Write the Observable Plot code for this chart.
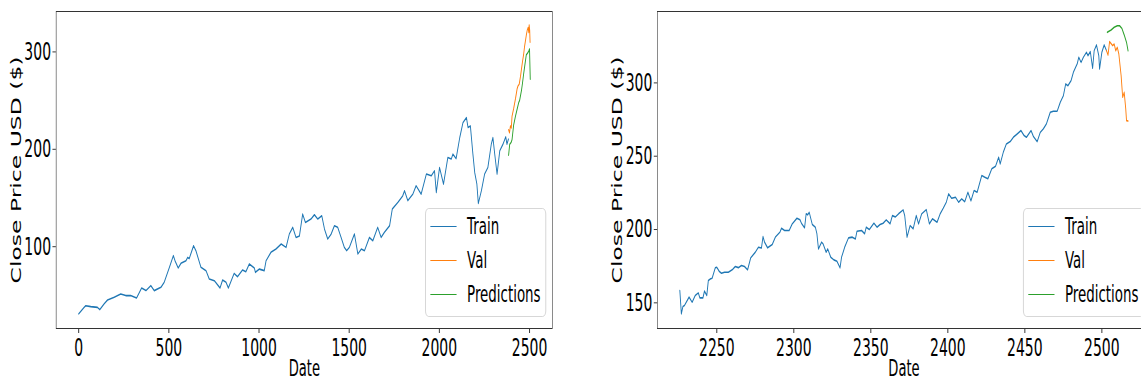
<!DOCTYPE html>
<html>
<head>
<meta charset="utf-8">
<script src="https://cdn.jsdelivr.net/npm/d3@7"></script>
<script src="https://cdn.jsdelivr.net/npm/@observablehq/plot@0.6"></script>
<style>
  html, body { margin: 0; padding: 0; background: white; overflow: hidden; }
  #wrap { position: absolute; left: 0; top: 0; width: 1141px; height: 382px; overflow: hidden; background: white; }
  #inner { position: absolute; left: 0; top: 0; width: 2100px; height: 382px; transform: scaleX(0.57); transform-origin: 0 0; }
  .panel { position: absolute; top: 0; height: 382px; }
  .panel svg { max-width: none !important; display: block; }
  .legend { position: absolute; top: 207.5px; width: 211.5px; height: 109px; box-sizing: border-box;
            border: 1px solid #cccccc; border-radius: 6px; background: rgba(255,255,255,0.8);
            font-family: "DejaVu Sans", sans-serif; font-size: 23.5px; color: black; }
  .row { position: absolute; left: 8px; height: 34px; display: flex; align-items: center; white-space: nowrap; }
  .sw { display: inline-block; width: 46px; height: 0; border-top: 1.5px solid; margin-right: 18.4px; }
</style>
</head>
<body>
<div id="wrap"><div id="inner">
  <div id="p1" class="panel" style="left:0px; width:1000px"></div>
  <div id="p2" class="panel" style="left:1000px; width:1060px"></div>
</div></div>
<script>
// ---------- data ----------
const seriesNames = ["Train", "Val", "Predictions"];
const seriesColors = ["#1f77b4", "#ff7f0e", "#2ca02c"];
const xLabel = "Date";
const yLabel = "Close Price USD ($)";

// left panel (full history)
const leftXTicks = [0, 500, 1000, 1500, 2000, 2500];
const leftYTicks = [100, 200, 300];
const leftTrainX = [
  0,30,39,67,104,117,141,160,197,233,
  261,288,321,349,373,400,419,456,474,503,
  525,534,552,567,595,604,613,637,650,678,
  706,724,752,784,798,817,830,862,881,909,
  927,946,974,980,1002,1029,1039,1066,1094,1123,
  1150,1168,1187,1205,1224,1242,1257,1288,1307,1326,
  1348,1363,1381,1400,1418,1436,1455,1473,1486,1501,
  1529,1548,1567,1585,1612,1631,1658,1677,1695,1724,
  1739,1770,1797,1807,1825,1853,1871,1899,1928,1955,
  1973,1983,2001,2023,2047,2066,2075,2093,2113,2131,
  2150,2159,2172,2186,2196,2208,2216,2233,2251,2269,
  2288,2297,2307,2320,2335,2353,2368,2375,2383];
const leftTrainY = [
  31,37.7,39.4,38.5,37.7,35.4,41.2,45.3,48,51.5,
  49.8,49.8,47.4,57.6,54.9,60,54.9,58.3,63.4,78.8,
  90.8,85.6,78.1,82.9,85.6,89,87.8,101,95.9,78.8,
  75.4,66.9,65.1,57.6,65.8,63.4,57.6,72.6,69.2,76.1,
  74.3,82.3,78.1,73.7,77,75.4,85.6,94.2,97.6,102.8,
  99.3,113,119.8,109.5,111,133.5,124.9,128.4,132.8,128.4,
  131.7,118.1,107.9,113,121.5,120,109.5,99.3,95.9,99.3,
  113,92.5,97.6,95.9,109.5,106.1,119.8,109.5,114.7,121.5,
  138.7,145.5,152.3,157.4,147.2,154,162.6,154,174.6,172.8,
  178,155.7,181.3,164.3,191.6,190,195,190.5,212,227.5,
  232.6,222.4,224,195,176.2,164.3,144.4,157.4,174.6,181.3,
  205.3,212,195,174.6,198.5,205.3,212.8,205.3,210.4];
const leftValX = [2384,2389,2394,2399,2403,2412,2422,2431,2436,2443,2450,2455,2461,2467,2472,2477,2482,2487,2492,2496,2498,2501,2503];
const leftValY = [220,217,224,222,234,242,252,262,265,267,275,282,290,297,305,311,317,322,325,320,327.7,322,310];
const leftPredX = [2384,2390,2398,2403,2412,2422,2431,2440,2445,2455,2461,2467,2473,2482,2490,2496,2500,2504];
const leftPredY = [194,205,207,210,225,234,241,248,250,260,268,277,285,297,299,301,303,272];

// right panel (zoom on the last part)
const rightXTicks = [2250, 2300, 2350, 2400, 2450, 2500];
const rightYTicks = [150, 200, 250, 300];
const rightTrainX = [
  2226,2227,2228,2229,2232,2234,2236,2238,2239,2241,
  2242,2243.5,2244.5,2246,2247,2249,2250,2251.5,2253,2255,
  2257.5,2260,2262,2264,2266,2268,2270,2272,2275,2277,
  2279,2280,2281,2283,2286,2288,2291,2292,2294,2297,
  2299,2302,2304,2305,2307,2308,2309,2310,2312,2314,
  2315,2316,2318,2319,2321,2322,2324,2326,2328,2330,
  2331,2333,2335.5,2338,2340,2341,2344,2346,2347,2349,
  2352,2354,2356,2358,2360,2362.5,2364,2366,2368,2371,
  2372,2373.5,2375.5,2377.5,2379.5,2381,2383,2386,2388,2390,
  2393,2395,2397,2399,2400.5,2402.5,2405,2407,2409,2411,
  2413,2415,2417,2419,2422,2424,2426,2428.5,2431,2433,
  2434,2436,2438,2440.5,2442.5,2445,2447.5,2449.5,2451,2454,
  2455.5,2458,2460,2462,2464,2466.5,2468.5,2471,2473,2475,
  2476.5,2478,2480,2481.5,2484,2485,2486.5,2488,2490,2491,
  2492.5,2494,2495,2496.5,2498,2498.5,2500,2501.5,2503];
const rightTrainY = [
  158.4,142.5,147.5,148.2,153.9,150.4,155,156.8,153.4,153.4,
  158,155,165.2,166.4,166.8,173.9,174.3,171.6,170.2,170.9,
  170.9,172.5,174.8,174,175.5,174.8,172.5,180.7,184.5,187.9,
  187.4,195.2,191.4,187.5,189.8,194.8,198.2,200.9,199.3,199.3,
  203.9,207.7,206.6,204.2,201.2,210.7,210,211.8,203.4,201.6,
  197.1,186.8,191.4,190.2,184.5,186.8,181.1,179.3,178.4,173.9,
  181.1,187.9,194.3,194.8,193.6,198.8,199.3,197.1,201.6,200,
  204.3,201.6,203.4,204.3,206.6,203.9,209.5,208.6,210.7,213.4,
  209.5,194.8,202.7,200.5,209.5,203.9,210.7,213.6,203.9,207.3,
  205,210.7,214.5,218.6,224.3,221.3,222,218.6,220.9,219,
  225.4,219.5,226.6,225.4,236.8,235.7,234.6,241.4,243.2,249.3,
  244.8,252.7,258.4,260,262.9,265.2,267.5,264.1,262.9,267.5,
  263.6,260,266.3,268.6,272,280,280.7,280.7,286.8,291.3,
  299.3,298.1,301.6,307.2,313,317.5,314,317.5,320.9,318.6,
  321.3,310,322,325.9,318.6,309.5,320.9,325.9,322];
const rightValX = [2503,2504,2505,2507,2508,2509,2510,2511,2512.5,2513.5,2514.5,2515.5,2516,2517];
const rightValY = [322,319,328.2,325.4,326.5,322,324.3,319.8,305,290.2,293.6,282.3,274.3,274];
const rightPredX = [2503.5,2506,2508,2510,2511.5,2513,2514.5,2516,2517];
const rightPredY = [334.5,336.1,337.9,339,339,337.2,332.7,327.7,322];

// ---------- drawing ----------
const zip = (xs, ys) => xs.map((x, i) => ({x, y: ys[i]}));

function panel(o) {
  const series = [zip(o.trainX, o.trainY), zip(o.valX, o.valY), zip(o.predX, o.predY)];
  return Plot.plot({
    width: o.width, height: 382,
    marginTop: 11, marginBottom: 54, marginLeft: o.marginLeft, marginRight: o.marginRight,
    style: {fontFamily: "'DejaVu Sans', sans-serif", fontSize: "23px", color: "black", background: "white", overflow: "visible", maxWidth: "none"},
    x: {domain: o.xDomain},
    y: {domain: o.yDomain},
    marks: [
      Plot.axisX({ticks: o.xTicks, tickFormat: d => String(d), tickSize: 5, tickPadding: 5, fontSize: 24.5, label: null}),
      Plot.axisY({ticks: o.yTicks, tickFormat: d => String(d), tickSize: 6, tickPadding: 3, fontSize: 24.5, label: null}),
      ...series.map((s, i) => Plot.line(s, {x: "x", y: "y", stroke: seriesColors[i], strokeWidth: 1.6})),
      Plot.frame({stroke: "#333", strokeWidth: 1}),
      Plot.text([xLabel], {frameAnchor: "bottom", textAnchor: "middle", lineAnchor: "top", dy: 31, fontSize: 23, text: d => d}),
      Plot.text([yLabel], {frameAnchor: "left", textAnchor: "middle", lineAnchor: "middle", rotate: -90, dx: -70, fontSize: 23.5, text: d => d})
    ]
  });
}

document.getElementById("p1").append(panel({
  trainX: leftTrainX, trainY: leftTrainY, valX: leftValX, valY: leftValY, predX: leftPredX, predY: leftPredY,
  xDomain: [-125, 2628], yDomain: [16, 341.5], xTicks: leftXTicks, yTicks: leftYTicks,
  width: 1000, marginLeft: 98, marginRight: 31
}));
document.getElementById("p2").append(panel({
  trainX: rightTrainX, trainY: rightTrainY, valX: rightValX, valY: rightValY, predX: rightPredX, predY: rightPredY,
  xDomain: [2211.5, 2531.6], yDomain: [132.5, 348.7], xTicks: rightXTicks, yTicks: rightYTicks,
  width: 1060, marginLeft: 153, marginRight: 42
}));

// legends (one per panel, lower right inside the frame)
function legend(left) {
  const box = document.createElement("div");
  box.className = "legend";
  box.style.left = left + "px";
  seriesNames.forEach((name, i) => {
    const row = document.createElement("div");
    row.className = "row";
    row.style.top = (0.5 + 34 * i) + "px";
    const sw = document.createElement("span");
    sw.className = "sw";
    sw.style.borderColor = seriesColors[i];
    row.append(sw, document.createTextNode(name));
    box.append(row);
  });
  document.getElementById("inner").append(box);
}
legend(746);
legend(1795);
</script>
</body>
</html>
